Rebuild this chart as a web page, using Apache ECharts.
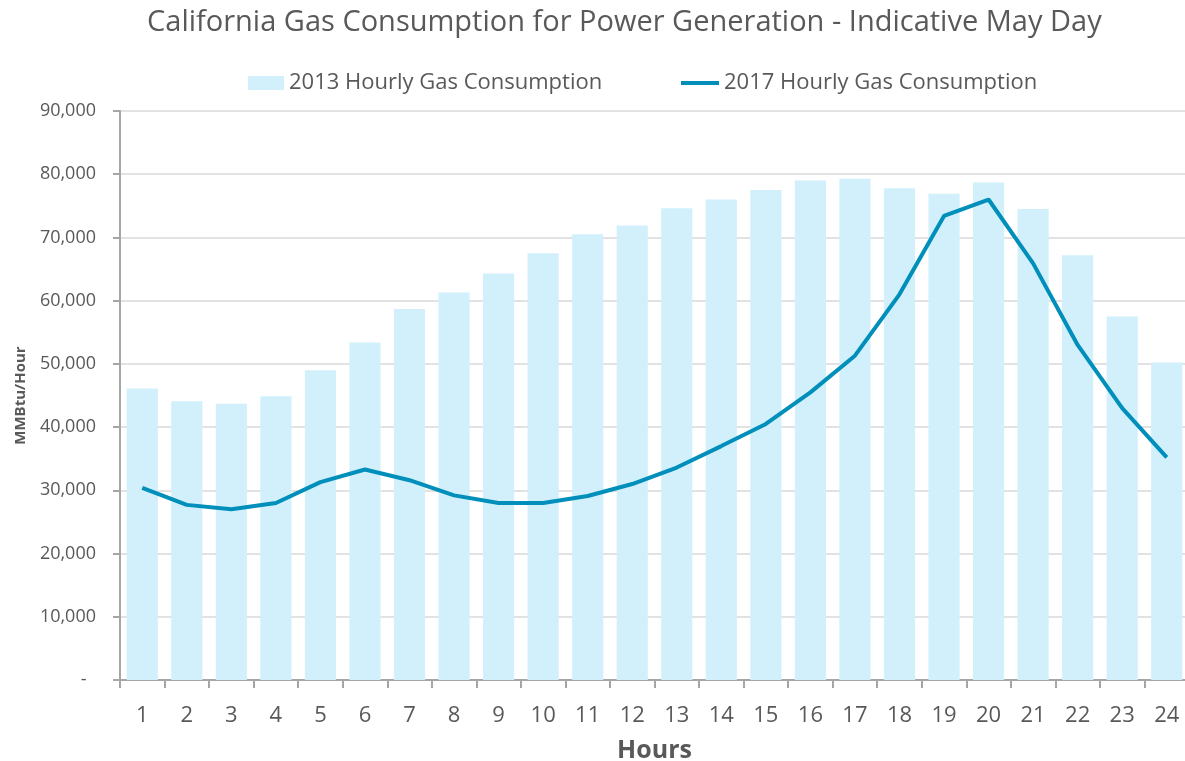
<!DOCTYPE html>
<html>
<head>
<meta charset="utf-8">
<script src="https://cdn.jsdelivr.net/npm/echarts@6/dist/echarts.min.js"></script>
<style>
  html, body { margin: 0; padding: 0; background: #fff; overflow: hidden; }
  #main { width: 1185px; height: 761px; }
</style>
</head>
<body>
<div id="main"></div>
<script>
// 数据：小时、2013 年和 2017 年逐小时用气量（MMBtu/Hour）
const hours = ['1', '2', '3', '4', '5', '6', '7', '8', '9', '10', '11', '12',
               '13', '14', '15', '16', '17', '18', '19', '20', '21', '22', '23', '24'];
const gas2013 = [46100, 44100, 43700, 44900, 49000, 53400, 58700, 61300, 64300, 67500, 70500, 71900,
                 74600, 76000, 77500, 79000, 79300, 77800, 76900, 78700, 74500, 67200, 57500, 50200];
const gas2017 = [30400, 27700, 27000, 28000, 31300, 33300, 31600, 29200, 28000, 28000, 29100, 31000,
                 33600, 37000, 40500, 45500, 51300, 61000, 73400, 76000, 65900, 53000, 43000, 35200];

const textColor = '#595959';
const fontFamily = '"Open Sans", sans-serif';
const barColor = '#d1f0fb';
const lineColor = '#008fba';

const chart = echarts.init(document.getElementById('main'));

chart.setOption({
    backgroundColor: '#fff',
    textStyle: { fontFamily: fontFamily },
    title: {
        text: 'California Gas Consumption for Power Generation - Indicative May Day',
        left: 142,
        top: 3,
        textStyle: { color: textColor, fontSize: 29, fontWeight: 'normal', fontFamily: fontFamily }
    },
    // 两个图例分开放，方便控制各自的图标尺寸
    legend: [
        {
            left: 243,
            top: 67,
            itemWidth: 36,
            itemHeight: 14,
            textStyle: { color: textColor, fontSize: 22, fontFamily: fontFamily },
            data: [{ name: '2013 Hourly Gas Consumption', icon: 'rect' }]
        },
        {
            left: 676,
            top: 67,
            itemWidth: 38,
            itemHeight: 4,
            textStyle: { color: textColor, fontSize: 22, fontFamily: fontFamily },
            data: [{ name: '2017 Hourly Gas Consumption', icon: 'rect' }]
        }
    ],
    // 绘图区固定位置，右侧略超出画布（原图右边被裁掉）
    grid: { left: 120, width: 1069, top: 111, height: 569, containLabel: false, outerBoundsMode: 'none' },
    xAxis: {
        type: 'category',
        data: hours,
        boundaryGap: true,
        name: 'Hours',
        nameLocation: 'middle',
        nameGap: 58,
        nameTextStyle: { color: textColor, fontSize: 25, fontWeight: 'bold', fontFamily: fontFamily },
        axisLine: { lineStyle: { color: '#a6a6a6', width: 2 } },
        axisTick: { show: true, length: 8, lineStyle: { color: '#a6a6a6', width: 2 } },
        axisLabel: { color: textColor, fontSize: 22, margin: 25, fontFamily: fontFamily }
    },
    yAxis: {
        type: 'value',
        min: 0,
        max: 90000,
        interval: 10000,
        name: 'MMBtu/Hour',
        nameLocation: 'middle',
        nameGap: 92,
        nameTextStyle: { color: textColor, fontSize: 15, fontWeight: 'bold', fontFamily: fontFamily },
        axisLine: { show: true, lineStyle: { color: '#a6a6a6', width: 2 } },
        axisTick: { show: true, length: 7, lineStyle: { color: '#a6a6a6', width: 2 } },
        axisLabel: {
            color: textColor,
            fontSize: 18,
            margin: 24,
            fontFamily: fontFamily,
            formatter: v => v === 0 ? '-  ' : v.toLocaleString('en-US')
        },
        splitLine: { lineStyle: { color: '#d9d9d9', width: 1.5 } }
    },
    series: [
        {
            name: '2013 Hourly Gas Consumption',
            type: 'bar',
            data: gas2013,
            barWidth: '70%',
            itemStyle: { color: barColor }
        },
        {
            name: '2017 Hourly Gas Consumption',
            type: 'line',
            data: gas2017,
            symbol: 'none',
            smooth: false,
            lineStyle: { color: lineColor, width: 4 },
            itemStyle: { color: lineColor }
        }
    ]
});
</script>
</body>
</html>
